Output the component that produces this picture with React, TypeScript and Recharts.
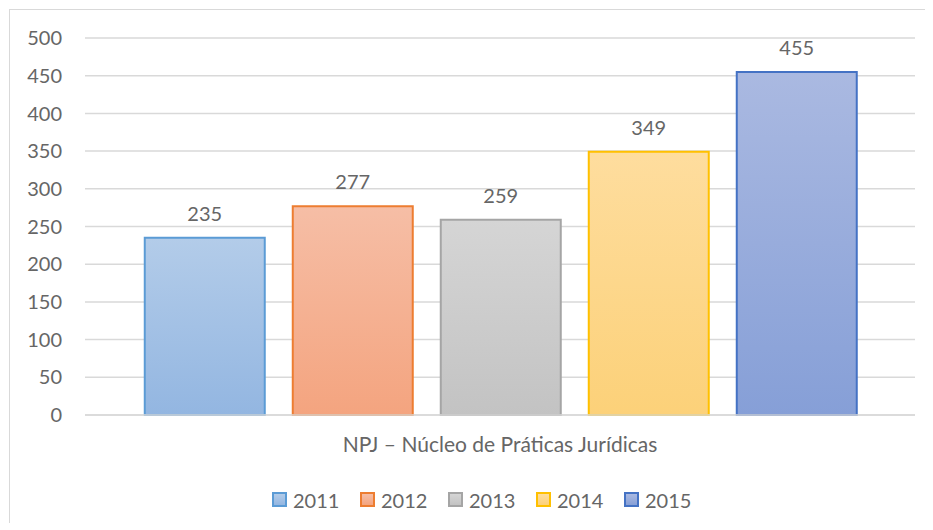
import { BarChart, Bar, XAxis, YAxis, CartesianGrid, Legend, LabelList } from "recharts";

const categories = ["NPJ – Núcleo de Práticas Jurídicas"];
const years = ["2011", "2012", "2013", "2014", "2015"];
const values = [235, 277, 259, 349, 455];
const yTicks = [0, 50, 100, 150, 200, 250, 300, 350, 400, 450, 500];

// fill gradient (top, bottom) and outline for each year
const barStyles = [
  { top: "#b3cce9", bottom: "#93b6e1", stroke: "#5b9bd5" },
  { top: "#f6bea6", bottom: "#f4a47f", stroke: "#ed7d31" },
  { top: "#d5d5d5", bottom: "#c3c3c3", stroke: "#a5a5a5" },
  { top: "#fedd9e", bottom: "#fcd179", stroke: "#ffc000" },
  { top: "#aab9e1", bottom: "#869fd7", stroke: "#4472c4" },
];

const data = categories.map((name) => {
  const row: Record<string, string | number> = { name };
  years.forEach((y, i) => {
    row[y] = values[i];
  });
  return row;
});

const textColor = "#666666";
const font = "Lato, 'Open Sans', sans-serif";

function LegendContent() {
  return (
    <div style={{ display: "flex", alignItems: "center", height: 33, paddingLeft: 262, fontFamily: font }}>
      {years.map((y, i) => (
        <div key={y} style={{ display: "flex", alignItems: "center", width: 88 }}>
          <span
            style={{
              display: "inline-block",
              width: 11,
              height: 11,
              border: `2px solid ${barStyles[i].stroke}`,
              background: `linear-gradient(${barStyles[i].top}, ${barStyles[i].bottom})`,
              marginRight: 6,
            }}
          />
          <span style={{ fontSize: 20, color: textColor }}>{y}</span>
        </div>
      ))}
    </div>
  );
}

export default function App() {
  return (
    <div
      style={{
        marginLeft: 1,
        marginTop: 1,
        width: 916,
        height: 513,
        borderLeft: "1px solid #d9d9d9",
        borderTop: "1px solid #d9d9d9",
      }}
    >
      <BarChart
        width={916}
        height={513}
        data={data}
        margin={{ top: 28, right: 11, left: 0, bottom: 0 }}
        barCategoryGap="7.2%"
        barGap={28}
        style={{ fontFamily: font }}
      >
        <defs>
          {barStyles.map((s, i) => (
            <linearGradient key={i} id={`grad-${i}`} x1="0" y1="0" x2="0" y2="1">
              <stop offset="0%" stopColor={s.top} />
              <stop offset="100%" stopColor={s.bottom} />
            </linearGradient>
          ))}
        </defs>
        <CartesianGrid vertical={false} stroke="#d9d9d9" strokeWidth={1.5} />
        <XAxis
          dataKey="name"
          height={68}
          tickLine={false}
          tickSize={0}
          tickMargin={22}
          axisLine={{ stroke: "#d9d9d9", strokeWidth: 1.5 }}
          tick={{ fill: textColor, fontSize: 21 }}
        />
        <YAxis
          width={75}
          domain={[0, 500]}
          ticks={yTicks}
          interval={0}
          tickLine={false}
          axisLine={false}
          tickSize={0}
          tickMargin={23}
          tick={{ fill: textColor, fontSize: 20 }}
        />
        <Legend
          verticalAlign="bottom"
          height={40}
          wrapperStyle={{ height: 40 }}
          content={<LegendContent />}
        />
        {years.map((y, i) => (
          <Bar
            key={y}
            dataKey={y}
            fill={`url(#grad-${i})`}
            stroke={barStyles[i].stroke}
            strokeWidth={2}
            isAnimationActive={false}
          >
            <LabelList dataKey={y} position="top" offset={17} fill={textColor} fontSize={20} />
          </Bar>
        ))}
      </BarChart>
    </div>
  );
}
